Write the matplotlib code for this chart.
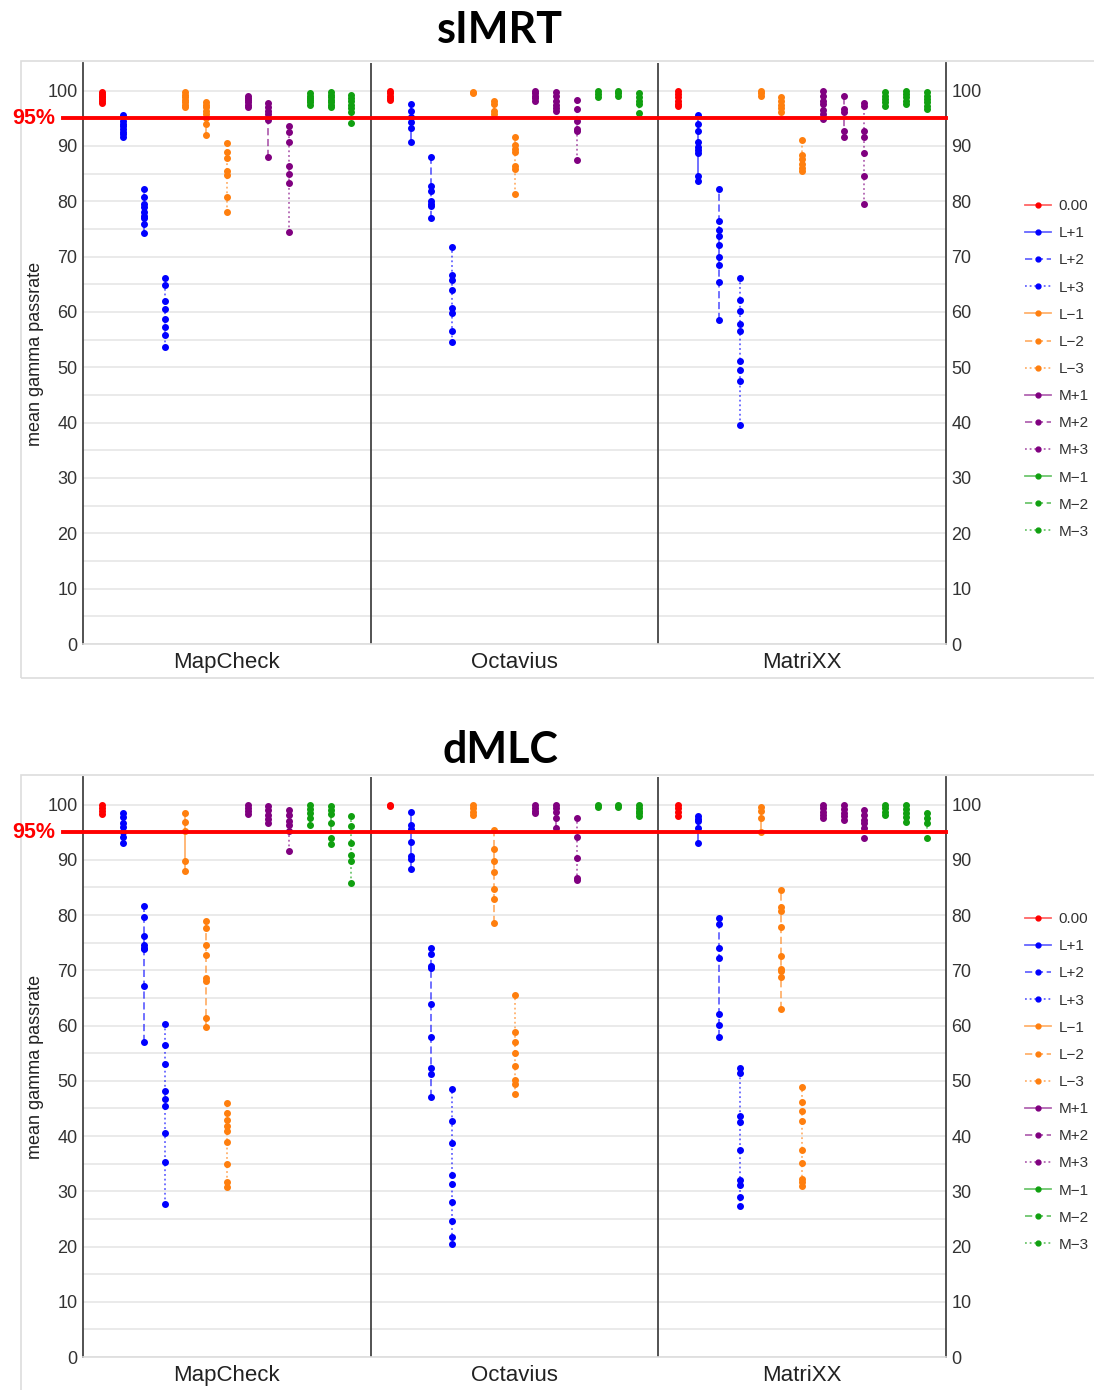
import matplotlib
matplotlib.use("Agg")
import matplotlib.pyplot as plt
from matplotlib.lines import Line2D
from matplotlib.patches import Rectangle
import matplotlib.colors as mcolors

plt.rcParams['font.family'] = ['Liberation Sans', 'DejaVu Sans']

devices = ['MapCheck', 'Octavius', 'MatriXX']
series = ['0.00', 'L+1', 'L+2', 'L+3', 'L\u22121', 'L\u22122', 'L\u22123',
          'M+1', 'M+2', 'M+3', 'M\u22121', 'M\u22122', 'M\u22123']

# sIMRT, one list per series (same order as `series`)
simrt_mapcheck = [
    [99.7, 99.4, 99.1, 98.8, 98.5, 98.1, 97.7],
    [95.6, 94.5, 94.0, 93.6, 93.1, 92.6, 92.2, 91.6],
    [82.3, 80.8, 79.6, 78.9, 78.1, 77.4, 77.0, 75.9, 74.3],
    [66.1, 64.8, 62.0, 60.6, 58.7, 57.2, 55.9, 53.6],
    [99.7, 99.3, 98.8, 98.4, 98.0, 97.5, 97.0],
    [97.9, 97.4, 97.0, 96.4, 95.8, 95.0, 94.0, 91.9],
    [90.5, 88.9, 87.8, 85.5, 84.8, 80.7, 78.1],
    [99.1, 98.7, 98.3, 97.9, 97.4, 97.0],
    [97.7, 97.0, 96.4, 95.8, 94.7, 88.1],
    [93.7, 92.5, 90.8, 86.3, 84.9, 83.4, 74.5],
    [99.5, 99.1, 98.7, 98.3, 97.9, 97.5],
    [99.7, 99.3, 98.9, 98.4, 97.9, 97.4, 97.0],
    [99.3, 98.7, 98.1, 97.5, 96.8, 96.1, 94.1],
]
simrt_octavius = [
    [99.9, 99.5, 99.1, 98.7, 98.3],
    [97.6, 96.4, 95.2, 94.3, 93.2, 90.8],
    [88.0, 82.8, 81.9, 80.0, 79.6, 79.2, 77.0],
    [71.8, 66.7, 65.8, 64.0, 60.7, 59.9, 56.6, 54.5],
    [99.8, 99.6],
    [98.2, 97.6, 96.3, 95.8],
    [91.7, 90.1, 89.4, 88.9, 86.3, 85.8, 81.4],
    [100.0, 99.6, 99.1, 98.6, 98.1],
    [99.7, 99.0, 98.2, 97.4, 96.8, 96.3],
    [98.4, 96.7, 94.6, 93.1, 92.7, 87.5],
    [99.9, 99.4, 98.8],
    [99.9, 99.5, 99.1],
    [99.5, 98.9, 98.2, 97.6, 95.9],
]
simrt_matrixx = [
    [100.0, 99.4, 98.8, 98.2, 97.6, 97.3],
    [95.6, 94.0, 92.8, 90.7, 89.8, 89.2, 88.7, 84.6, 83.6],
    [82.2, 76.4, 74.9, 73.7, 72.1, 70.0, 68.5, 65.4, 58.6],
    [66.1, 62.2, 60.1, 57.8, 56.6, 51.2, 49.6, 47.6, 39.5],
    [99.9, 99.5, 99.1],
    [98.9, 98.2, 97.5, 96.8, 96.1],
    [91.1, 88.4, 87.7, 86.7, 86.0, 85.4],
    [100.0, 99.1, 98.2, 97.6, 96.5, 95.8, 94.9],
    [99.1, 96.7, 96.1, 92.8, 91.7],
    [97.7, 97.3, 92.8, 91.6, 88.7, 84.6, 79.5],
    [99.7, 99.1, 98.5, 97.9, 97.3],
    [100.0, 99.4, 98.8, 98.2, 97.6],
    [99.7, 99.1, 98.5, 97.9, 97.3, 96.7],
]

# dMLC
dmlc_mapcheck = [
    [100.0, 99.4, 98.8, 98.3],
    [98.5, 97.8, 96.6, 96.0, 95.1, 94.2, 93.1],
    [81.7, 79.7, 76.2, 74.6, 74.1, 73.8, 67.2, 57.1],
    [60.2, 56.5, 53.0, 48.2, 46.7, 45.5, 40.5, 35.3, 27.7],
    [98.5, 96.9, 95.2, 89.8, 88.0],
    [78.9, 77.7, 74.6, 72.8, 68.6, 68.1, 61.4, 59.7],
    [46.0, 44.2, 42.9, 41.9, 41.0, 38.9, 34.9, 31.7, 30.7],
    [99.9, 99.3, 98.8, 98.3],
    [99.7, 99.0, 98.2, 97.4, 96.6],
    [99.0, 98.1, 97.0, 96.3, 95.2, 91.6],
    [100.0, 99.2, 98.4, 97.6, 96.4],
    [99.7, 99.0, 98.3, 96.7, 94.0, 92.8],
    [97.9, 96.1, 93.1, 90.8, 89.8, 85.9],
]
dmlc_octavius = [
    [99.9, 99.7],
    [98.7, 96.4, 95.5, 93.3, 90.7, 90.2, 88.4],
    [74.0, 72.9, 70.8, 70.4, 63.9, 58.0, 52.4, 51.2, 47.0],
    [48.5, 42.8, 38.7, 32.9, 31.4, 28.0, 24.6, 21.7, 20.5],
    [99.9, 99.3, 98.7, 98.1],
    [95.4, 91.9, 89.8, 87.8, 84.8, 83.0, 78.5],
    [65.5, 58.9, 57.1, 55.0, 52.6, 50.2, 49.5, 47.7],
    [99.9, 99.4, 98.9, 98.4],
    [99.9, 99.3, 98.7, 97.5, 95.7],
    [97.5, 94.2, 90.4, 86.8, 86.4],
    [99.9, 99.5],
    [99.9, 99.5],
    [99.9, 99.4, 98.9, 98.4, 97.9],
]
dmlc_matrixx = [
    [99.9, 99.3, 98.7, 97.9],
    [97.9, 97.4, 97.0, 95.7, 93.1],
    [79.4, 78.4, 74.0, 72.2, 62.1, 60.1, 57.9],
    [52.3, 51.4, 43.7, 42.5, 37.5, 32.1, 31.2, 29.0, 27.3],
    [99.5, 98.9, 97.5, 95.1],
    [84.6, 81.5, 80.8, 77.8, 72.6, 70.2, 69.8, 68.8, 63.0],
    [48.8, 46.1, 44.6, 42.8, 37.5, 35.1, 32.2, 31.6, 30.9],
    [99.9, 99.3, 98.7, 98.1, 97.5],
    [99.9, 99.2, 98.5, 97.9, 97.3],
    [99.0, 98.1, 97.2, 96.6, 95.7, 93.9],
    [99.9, 99.4, 98.7, 98.1],
    [99.9, 99.2, 98.5, 97.7, 96.9],
    [98.5, 97.5, 96.6, 93.9],
]

threshold = 95

colors = {'0': '#ff0000', 'L+': '#0000ff', 'L-': '#ff7f0e',
          'M+': '#800080', 'M-': '#10a010'}
styles = ['-', (0, (4, 2)), (0, (1, 1.6))]


def series_style(i):
    if i == 0:
        return colors['0'], '-'
    group = ['L+', 'L-', 'M+', 'M-'][(i - 1) // 3]
    return colors[group], styles[(i - 1) % 3]


W, H = 1094, 1390
fig = plt.figure(figsize=(W / 100, H / 100), dpi=100)


def px(x, y):
    return x / W, 1 - y / H


def draw_chart(data, title, top_px, bottom_px, title_y, frame_top, frame_bot, leg_center):
    # light frame round the chart image
    fx0, fy0 = px(21, frame_bot)
    fig.add_artist(Rectangle((fx0, fy0), 1 - fx0 + 0.01, (frame_bot - frame_top) / H,
                             transform=fig.transFigure, fill=False,
                             edgecolor='#dddddd', linewidth=1.2, zorder=-1))
    fig.text(500 / W, 1 - title_y / H, title, ha='center', va='center',
             fontsize=31, fontweight='bold', family=['Lato', 'DejaVu Sans'])

    left, right = 83 / W, 946 / W
    ax = fig.add_axes([left, 1 - bottom_px / H, right - left, (bottom_px - top_px) / H])
    ax.set_xlim(-0.5, 2.5)
    ax.set_ylim(0, 105)
    ax.set_yticks(range(0, 101, 10))
    ax.set_yticks(range(5, 105, 10), minor=True)
    ax.grid(True, axis='y', which='both', color='#e6e6e6', linewidth=1.2)
    ax.set_axisbelow(True)
    for s in ['left', 'right']:
        ax.spines[s].set_color('#444444')
        ax.spines[s].set_linewidth(1.3)
    ax.spines['top'].set_visible(False)
    ax.spines['bottom'].set_color('#dddddd')
    ax.spines['bottom'].set_linewidth(1.2)
    for xv in (0.5, 1.5):
        ax.axvline(xv, color='#444444', linewidth=1.3, zorder=1)
    ax.tick_params(axis='y', which='both', length=0, labelsize=13, labelcolor='#333333',
                   labelright=True, pad=4)
    ax.set_xticks(range(len(devices)))
    ax.set_xticklabels(devices)
    ax.tick_params(axis='x', length=0, labelsize=16, labelcolor='#222222', pad=6)
    ax.set_ylabel('mean gamma passrate', fontsize=13, color='#222222', labelpad=2)

    step = 0.0722
    for d, dev_data in enumerate(data):
        for i, vals in enumerate(dev_data):
            c, ls = series_style(i)
            xs = [d + (i - 6) * step] * len(vals)
            ax.plot(xs, sorted(vals), color=mcolors.to_rgba(c, 0.6), linestyle=ls,
                    linewidth=1.3, marker='o', markersize=4,
                    markerfacecolor=c, markeredgecolor=c, zorder=3)

    ax.axhline(threshold, xmin=-0.023, xmax=1.0, color='#ff0000', linewidth=2.8,
               clip_on=False, zorder=4)
    ax.text(-0.597, threshold, '95%', color='#ff0000', fontsize=15.5, fontweight='bold',
            ha='right', va='center', transform=ax.transData, zorder=5)

    handles = []
    for i, name in enumerate(series):
        c, ls = series_style(i)
        handles.append(Line2D([], [], color=mcolors.to_rgba(c, 0.6), linestyle=ls,
                              linewidth=1.3, marker='o', markersize=3.5,
                              markerfacecolor=c, markeredgecolor=c, label=name))
    fig.legend(handles=handles, loc='center left',
               bbox_to_anchor=(1019 / W, 1 - leg_center / H), frameon=False,
               fontsize=11, handlelength=1.7, handletextpad=0.5, labelspacing=0.86,
               labelcolor='#333333', borderaxespad=0)
    return ax


draw_chart([simrt_mapcheck, simrt_octavius, simrt_matrixx], 'sIMRT',
           63, 644, 30, 61, 678, 369)
draw_chart([dmlc_mapcheck, dmlc_octavius, dmlc_matrixx], 'dMLC',
           777, 1357, 750, 775, 1392, 1082)

fig.savefig('out.png', dpi=100)
